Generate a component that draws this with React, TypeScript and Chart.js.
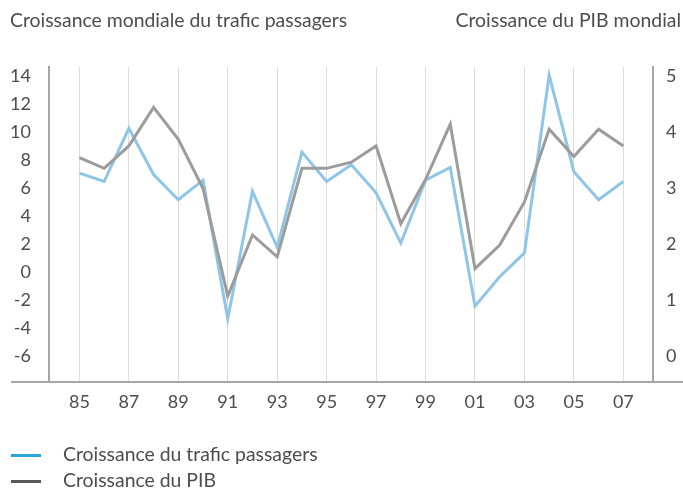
import React, { useEffect, useRef } from "react";
import { Chart, registerables } from "chart.js";

Chart.register(...registerables);

const years = [1985, 1986, 1987, 1988, 1989, 1990, 1991, 1992, 1993, 1994, 1995, 1996, 1997, 1998, 1999, 2000, 2001, 2002, 2003, 2004, 2005, 2006, 2007];
const traffic = [7.1, 6.5, 10.3, 7.0, 5.2, 6.6, -3.3, 5.8, 1.8, 8.6, 6.5, 7.7, 5.7, 2.1, 6.6, 7.5, -2.4, -0.3, 1.4, 14.1, 7.2, 5.2, 6.5];
const gdp = [3.55, 3.36, 3.76, 4.45, 3.88, 3.0, 1.08, 2.17, 1.78, 3.36, 3.36, 3.47, 3.76, 2.37, 3.16, 4.15, 1.57, 1.99, 2.76, 4.06, 3.57, 4.06, 3.76];
const xTicks = [1985, 1987, 1989, 1991, 1993, 1995, 1997, 1999, 2001, 2003, 2005, 2007];
const leftTicks = [-6, -4, -2, 0, 2, 4, 6, 8, 10, 12, 14];
const rightTicks = [0, 1, 2, 3, 4, 5];

const titleLeft = "Croissance mondiale du trafic passagers";
const titleRight = "Croissance du PIB mondial";
const legendTraffic = "Croissance du trafic passagers";
const legendGdp = "Croissance du PIB";

const FONT = "Lato, 'Open Sans', sans-serif";
const TEXT = "#4d4d4d";
const AXIS = "#a6a6a6";

const bottomLine = {
  id: "bottomLine",
  afterDraw(chart: any) {
    const { ctx, chartArea } = chart;
    ctx.save();
    ctx.strokeStyle = AXIS;
    ctx.lineWidth = 2;
    ctx.beginPath();
    ctx.moveTo(11, chartArea.bottom);
    ctx.lineTo(683, chartArea.bottom);
    ctx.stroke();
    ctx.restore();
  },
};

export default function App() {
  const ref = useRef<HTMLCanvasElement>(null);

  useEffect(() => {
    if (!ref.current) return;
    const chart = new Chart(ref.current, {
      type: "line",
      data: {
        datasets: [
          {
            label: legendGdp,
            data: years.map((y, i) => ({ x: y, y: gdp[i] })),
            borderColor: "#9c9c9c",
            backgroundColor: "#9c9c9c",
            borderWidth: 3,
            pointRadius: 0,
            tension: 0,
            yAxisID: "y1",
            order: 0,
          },
          {
            label: legendTraffic,
            data: years.map((y, i) => ({ x: y, y: traffic[i] })),
            borderColor: "#8fc6e8",
            backgroundColor: "#8fc6e8",
            borderWidth: 3,
            pointRadius: 0,
            tension: 0,
            yAxisID: "y",
            order: 1,
          },
        ],
      },
      options: {
        responsive: false,
        animation: false,
        layout: { padding: { top: 67, left: 0, right: 0, bottom: 0 } },
        plugins: { legend: { display: false }, tooltip: { enabled: false } },
        scales: {
          x: {
            type: "linear",
            min: 1983.77,
            max: 2008.2,
            afterBuildTicks: (s: any) => {
              s.ticks = xTicks.map((v) => ({ value: v }));
            },
            afterFit: (s: any) => {
              s.height = 106;
            },
            ticks: {
              autoSkip: false,
              maxRotation: 0,
              padding: 9,
              color: TEXT,
              font: { family: FONT, size: 18 },
              callback: (v: any) => String(Number(v) % 100).padStart(2, "0"),
            },
            grid: { color: "#dcdcdc", lineWidth: 1, drawTicks: false },
            border: { display: false },
          },
          y: {
            type: "linear",
            position: "left",
            min: -7.82,
            max: 14.68,
            afterBuildTicks: (s: any) => {
              s.ticks = leftTicks.map((v) => ({ value: v }));
            },
            afterFit: (s: any) => {
              s.width = 49;
            },
            ticks: {
              padding: 18,
              color: TEXT,
              font: { family: FONT, size: 18 },
            },
            grid: { display: false, drawTicks: false },
            border: { display: true, color: AXIS, width: 2 },
          },
          y1: {
            type: "linear",
            position: "right",
            min: -0.455,
            max: 5.17,
            afterBuildTicks: (s: any) => {
              s.ticks = rightTicks.map((v) => ({ value: v }));
            },
            afterFit: (s: any) => {
              s.width = 30;
            },
            ticks: {
              padding: 13,
              color: TEXT,
              font: { family: FONT, size: 18 },
            },
            grid: { display: false, drawTicks: false },
            border: { display: true, color: AXIS, width: 2 },
          },
        },
      },
      plugins: [bottomLine],
    } as any);
    return () => chart.destroy();
  }, []);

  const textStyle: React.CSSProperties = {
    position: "absolute",
    fontFamily: FONT,
    fontSize: 19.4,
    color: TEXT,
    whiteSpace: "nowrap",
    lineHeight: "22px",
  };

  return (
    <div style={{ position: "fixed", left: 0, top: 0, width: 683, height: 488, background: "#fff" }}>
      <canvas ref={ref} width={683} height={488} style={{ position: "absolute", left: 0, top: 0 }} />
      <div style={{ ...textStyle, left: 10, top: 9 }}>{titleLeft}</div>
      <div style={{ ...textStyle, right: 2, top: 9 }}>{titleRight}</div>
      <div style={{ position: "absolute", left: 11, top: 454, width: 30, height: 3, background: "#2aa6dc" }} />
      <div style={{ ...textStyle, left: 63, top: 443 }}>{legendTraffic}</div>
      <div style={{ position: "absolute", left: 11, top: 480, width: 30, height: 3, background: "#595959" }} />
      <div style={{ ...textStyle, left: 63, top: 469 }}>{legendGdp}</div>
    </div>
  );
}
